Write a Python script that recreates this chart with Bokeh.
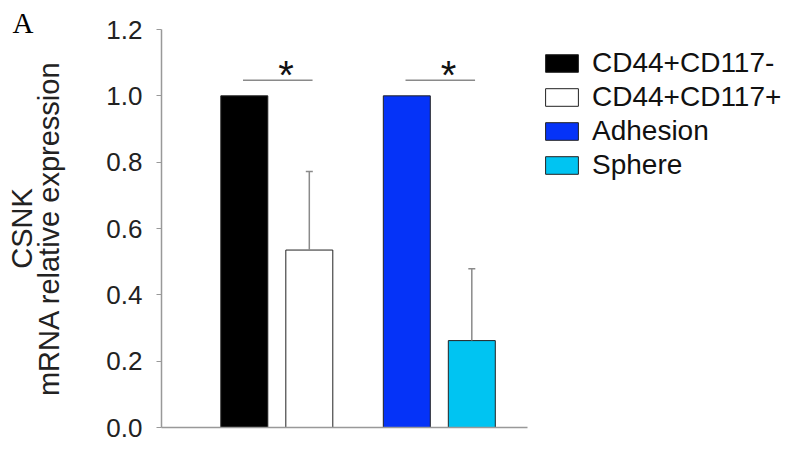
from bokeh.plotting import figure
from bokeh.models import (ColumnDataSource, Range1d, FixedTicker, NumeralTickFormatter,
                          Legend, LegendItem)
from bokeh.core.properties import value
from bokeh.embed import file_html
from bokeh.resources import INLINE

# ---- data ----
categories = ["CD44+CD117-", "CD44+CD117+", "Adhesion", "Sphere"]
values = [1.0, 0.535, 1.0, 0.262]
errors = [0.0, 0.237, 0.0, 0.217]
colors = ["#000000", "#FFFFFF", "#0533F8", "#00C4F2"]
y_ticks = [0.0, 0.2, 0.4, 0.6, 0.8, 1.0, 1.2]
sig_pairs = [(0, 1), (2, 3)]
sig_marks = ["*", "*"]
sig_level = 1.047
panel_label = "A"
y_label = "CSNK\nmRNA relative expression"

FONT = "Liberation Sans"
GREY = "#999999"

# layout: two groups of two bars
x_pos = [i + (i // 2) * 0.5 for i in range(len(categories))]
X_START, AXIS_END, X_END = -1.274, 4.357, 8.326

p = figure(width=785, height=445, output_backend="svg", toolbar_location=None,
           x_range=Range1d(X_START, X_END), y_range=Range1d(0, 1.2),
           min_border_left=161, min_border_right=0, min_border_top=29,
           min_border_bottom=18)

src = ColumnDataSource(dict(x=x_pos, top=values, color=colors, label=categories))
bars = p.vbar(x="x", top="top", bottom=0, width=0.723, source=src,
              fill_color="color", line_color="#222222", line_width=1)

# error bars (upper only)
ex = [x_pos[i] for i in range(len(values)) if errors[i] > 0]
ey0 = [values[i] for i in range(len(values)) if errors[i] > 0]
ey1 = [values[i] + errors[i] for i in range(len(values)) if errors[i] > 0]
esrc = ColumnDataSource(dict(x=ex, y0=ey0, y1=ey1))
p.segment(x0="x", y0="y0", x1="x", y1="y1", source=esrc, line_color="#8a8a8a", line_width=1.5)
p.scatter(x="x", y="y1", source=esrc, marker="dash", size=7, line_color="#8a8a8a", line_width=1.5)

# significance lines and asterisks
sx0 = [x_pos[a] - 0.02 for a, b in sig_pairs]
sx1 = [x_pos[b] + 0.05 for a, b in sig_pairs]
sy = [sig_level] * len(sig_pairs)
ssrc = ColumnDataSource(dict(x0=sx0, x1=sx1, y=sy,
                             xm=[(x_pos[a] + x_pos[b]) / 2 + 0.14 for a, b in sig_pairs],
                             t=sig_marks))
p.segment(x0="x0", y0="y", x1="x1", y1="y", source=ssrc, line_color="#8a8a8a", line_width=1.5)
p.text(x="xm", y="y", text="t", source=ssrc, text_font=value(FONT), text_font_size="40px",
       text_align="center", text_baseline="alphabetic", text_color="#111111",
       y_offset=-5)

# axes
p.yaxis.ticker = FixedTicker(ticks=y_ticks)
p.yaxis.formatter = NumeralTickFormatter(format="0.0")
p.yaxis.major_label_text_font = FONT
p.yaxis.major_label_text_font_size = "26px"
p.yaxis.major_label_text_color = "#222222"
p.yaxis.major_tick_out = 5
p.yaxis.major_tick_in = 0
p.yaxis.minor_tick_line_color = None
p.yaxis.major_tick_line_color = GREY
p.yaxis.major_label_standoff = 14
p.yaxis.axis_label = y_label
p.yaxis.axis_label_text_font = FONT
p.yaxis.axis_label_text_font_size = "29px"
p.yaxis.axis_label_text_font_style = "normal"
p.yaxis.axis_label_text_color = "#222222"
p.yaxis.axis_label_text_line_height = 0.85
p.yaxis.axis_label_standoff = 38

p.xaxis.ticker = FixedTicker(ticks=[])
p.xaxis.minor_tick_line_color = None
p.xaxis.major_tick_line_color = None
p.xaxis.bounds = (X_START, AXIS_END)

for ax in (p.xaxis, p.yaxis):
    ax.axis_line_color = GREY
    ax.axis_line_width = 1.5

p.grid.visible = False
p.outline_line_color = None
p.background_fill_color = "white"
p.border_fill_color = "white"

# panel letter as title
p.title.text = panel_label
p.title.text_font = "Liberation Serif"
p.title.text_font_size = "29px"
p.title.text_font_style = "normal"
p.title.text_color = "#000000"
p.title.align = "left"
p.title.offset = -149
p.title.standoff = -19

legend = Legend(items=[LegendItem(label=categories[i], renderers=[bars], index=i)
                       for i in range(len(categories))],
                location=(380, 246), glyph_width=41, glyph_height=22,
                label_text_font=FONT, label_text_font_size="28px",
                label_text_color="#111111", label_standoff=10, spacing=2,
                padding=0, margin=0, border_line_color=None, background_fill_alpha=0)
p.add_layout(legend)

open("out.html", "w").write(file_html(p, INLINE))
